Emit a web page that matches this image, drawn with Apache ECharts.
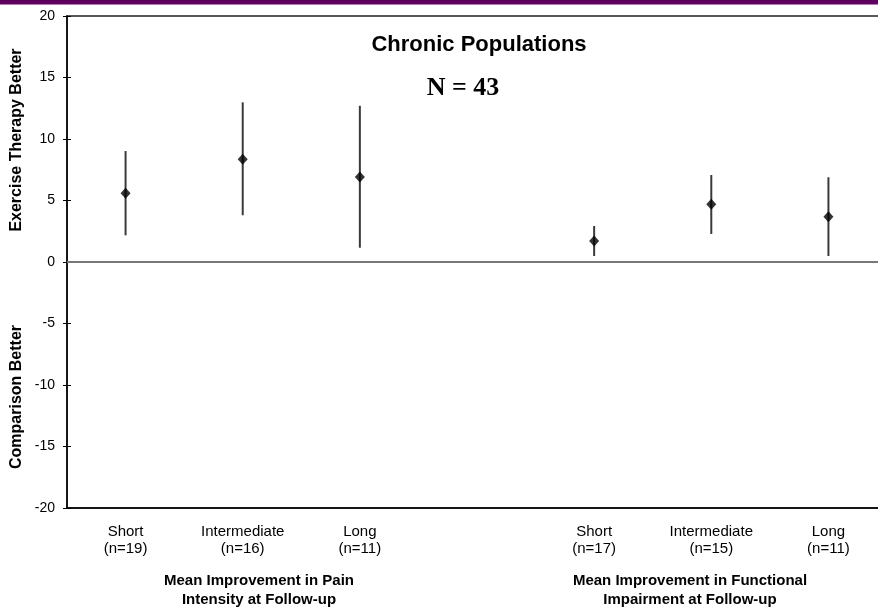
<!DOCTYPE html>
<html>
<head>
<meta charset="utf-8">
<script src="https://cdn.jsdelivr.net/npm/echarts@6/dist/echarts.min.js"></script>
<style>html,body{margin:0;padding:0;background:#fff;}#c{width:878px;height:612px;}</style>
</head>
<body>
<div id="c"></div>
<script>
const categories = ['Short\n(n=19)', 'Intermediate\n(n=16)', 'Long\n(n=11)', '', 'Short\n(n=17)', 'Intermediate\n(n=15)', 'Long\n(n=11)'];
const groupTitles = ['Mean Improvement in Pain\nIntensity at Follow-up', 'Mean Improvement in Functional\nImpairment at Follow-up'];
const means = [5.58, 8.35, 6.91, null, 1.71, 4.69, 3.68];
const upper = [9.02, 12.98, 12.7, null, 2.93, 7.07, 6.89];
const lower = [2.17, 3.8, 1.16, null, 0.49, 2.28, 0.49];
const yMin = -20, yMax = 20, yStep = 5;

const FONT = "'Liberation Sans', Arial, sans-serif";
const chart = echarts.init(document.getElementById('c'));

const barData = [];
const pointData = [];
categories.forEach((c, i) => {
  if (means[i] !== null) {
    barData.push([i, lower[i], upper[i]]);
    pointData.push([i, means[i]]);
  }
});

chart.setOption({
  animation: false,
  backgroundColor: '#fff',
  grid: { show: true, left: 67, top: 16, width: 820, height: 492, containLabel: false,
          outerBoundsMode: 'none',
          borderColor: '#222', borderWidth: 1.5, backgroundColor: 'transparent' },
  graphic: [
    { type: 'rect', left: 0, top: 0, shape: { width: 878, height: 4 }, style: { fill: '#5e0060' } },
    { type: 'rect', left: 0, top: 4, shape: { width: 878, height: 1 }, style: { fill: '#b47ab4' } },
    { type: 'text', x: 479, y: 45, style: { text: 'Chronic Populations', font: "bold 22px " + FONT, fill: '#000', align: 'center', verticalAlign: 'middle' } },
    { type: 'text', x: 463, y: 88, style: { text: 'N = 43', font: "bold 26px 'Liberation Serif', 'Times New Roman', serif", fill: '#000', align: 'center', verticalAlign: 'middle' } },
    { type: 'text', x: 17, y: 140, rotation: Math.PI / 2, style: { text: 'Exercise Therapy Better', font: "bold 16px " + FONT, fill: '#000', align: 'center', verticalAlign: 'middle' } },
    { type: 'text', x: 17, y: 397, rotation: Math.PI / 2, style: { text: 'Comparison Better', font: "bold 16px " + FONT, fill: '#000', align: 'center', verticalAlign: 'middle' } },
    { type: 'text', x: 259, y: 590, style: { text: groupTitles[0], font: "bold 15px " + FONT, lineHeight: 19, fill: '#000', align: 'center', verticalAlign: 'middle' } },
    { type: 'text', x: 690, y: 590, style: { text: groupTitles[1], font: "bold 15px " + FONT, lineHeight: 19, fill: '#000', align: 'center', verticalAlign: 'middle' } }
  ],
  xAxis: [
    {
      type: 'category', data: categories, position: 'bottom',
      axisLine: { show: true, onZero: false, lineStyle: { color: '#000', width: 1.5 } },
      axisTick: { show: false },
      axisLabel: { interval: 0, margin: 15, color: '#000', fontFamily: FONT, fontSize: 15, lineHeight: 17 },
      splitLine: { show: false }
    }
  ],
  yAxis: [
    {
      type: 'value', min: yMin, max: yMax, interval: yStep,
      axisLine: { show: true, lineStyle: { color: '#000', width: 1.5 } },
      axisTick: { show: true, length: 4, lineStyle: { color: '#000' } },
      axisLabel: { margin: 12, color: '#000', fontFamily: FONT, fontSize: 14 },
      splitLine: { show: false }
    },
    {
      type: 'value', min: yMin, max: yMax, interval: yStep, position: 'left',
      axisLine: { show: false },
      axisTick: { show: true, inside: true, length: 4, lineStyle: { color: '#000' } },
      axisLabel: { show: false }, splitLine: { show: false }
    }
  ],
  series: [
    {
      type: 'custom', xAxisIndex: 0, yAxisIndex: 0, data: barData, silent: true,
      renderItem: function (params, api) {
        const x = api.value(0);
        const p1 = api.coord([x, api.value(1)]);
        const p2 = api.coord([x, api.value(2)]);
        return { type: 'line', shape: { x1: p1[0], y1: p1[1], x2: p2[0], y2: p2[1] }, style: { stroke: '#3a3a3a', lineWidth: 2 } };
      },
      encode: { x: 0, y: [1, 2] },
      markLine: {
        silent: true, symbol: 'none', label: { show: false },
        lineStyle: { color: '#777', width: 2, type: 'solid' },
        data: [{ yAxis: 0 }]
      }
    },
    {
      type: 'scatter', xAxisIndex: 0, yAxisIndex: 0, data: pointData,
      symbol: 'diamond', symbolSize: [10, 11],
      itemStyle: { color: '#000' }, silent: true
    }
  ]
});
</script>
</body>
</html>
